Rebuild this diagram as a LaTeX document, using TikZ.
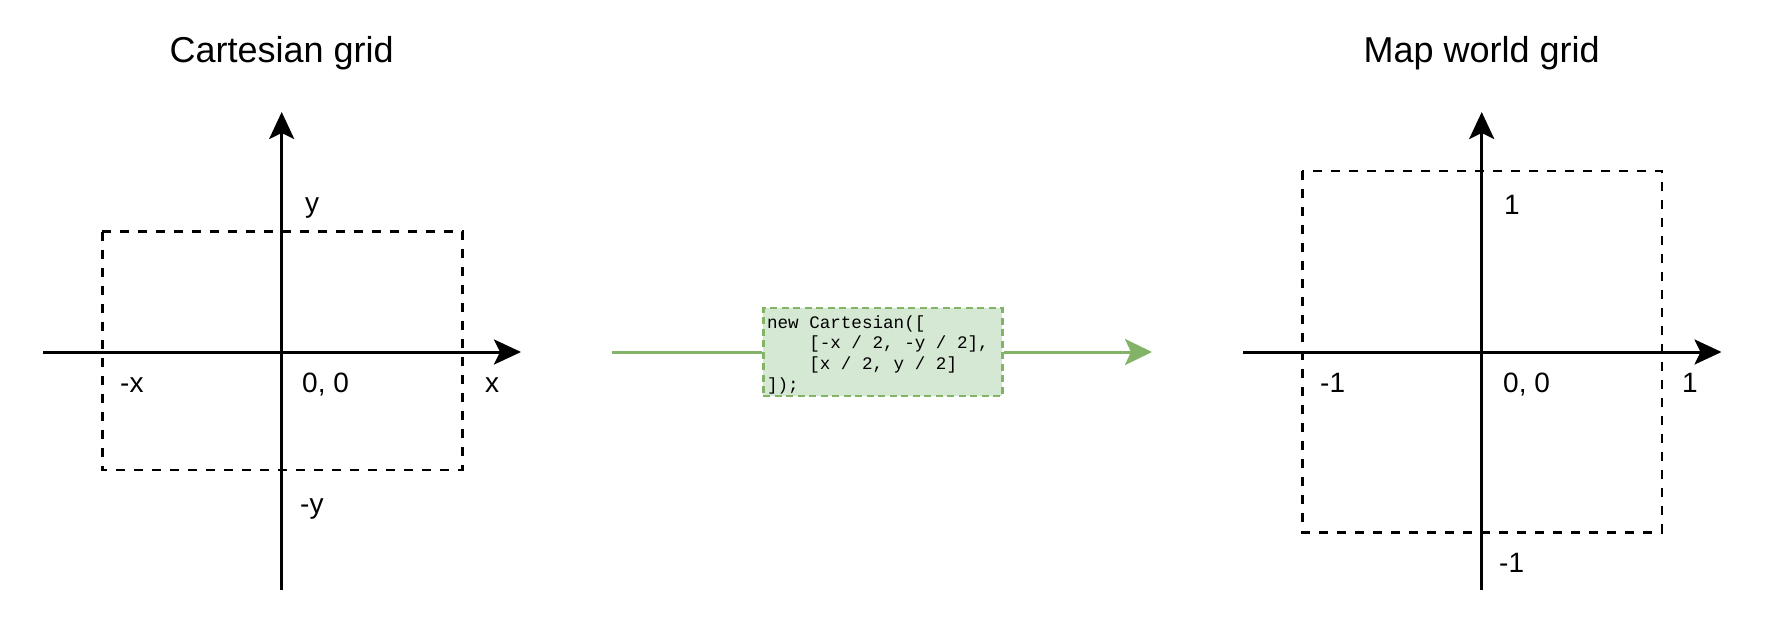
\documentclass[tikz,border=0pt]{standalone}
\usepackage{fontspec}
\setmainfont{Liberation Sans}
\newfontfamily\codefont{Liberation Mono}
\usetikzlibrary{arrows.meta}
\definecolor{gline}{HTML}{82B366}
\definecolor{gfill}{HTML}{D5E8D4}
\newcommand{\csp}{\hspace*{0.6em}}
\begin{document}
\begin{tikzpicture}[x=1pt,y=-1pt,
  axis/.style={line width=3pt,-{Stealth[length=27pt,width=25pt,inset=6pt]}},
  gridbox/.style={line width=2.6pt,dash pattern=on 9pt off 9pt},
  lbl/.style={anchor=base west,inner sep=0pt,font=\fontsize{28}{32}\selectfont},
  ttl/.style={anchor=base,inner sep=0pt,font=\fontsize{36}{42}\selectfont},
  codebox/.style={draw=gline,fill=gfill,line width=2.7pt,dash pattern=on 7pt off 4.5pt,
    text width=231.6pt,minimum height=88pt,align=left,inner xsep=3.7pt,inner ysep=0pt,
    font=\codefont\fontsize{17.6}{20.7}\selectfont},
  garrow/.style={draw=gline,line width=3pt}
]
\useasboundingbox (0,0) rectangle (1768,637);
% titles
\node[ttl] (t1) at (281.7,62) {Cartesian grid};
\node[ttl] (t2) at (1481.7,62) {Map world grid};
% left panel
\draw[gridbox] (102.3,231.7) rectangle (462.3,470);
\coordinate (lxs) at (42.8,352);
\coordinate (lxe) at (521,352);
\coordinate (lys) at (281.7,590);
\coordinate (lye) at (281.7,112);
\draw[axis] (lxs) -- (lxe);
\draw[axis] (lys) -- (lye);
\node[lbl] (ly) at (305,212) {y};
\node[lbl] (lmx) at (120,392) {-x};
\node[lbl] (lo) at (302,392) {0, 0};
\node[lbl] (lx) at (485,392) {x};
\node[lbl] (lmy) at (300,513) {-y};
% right panel
\draw[gridbox] (1302.3,171) rectangle (1662,532.3);
\coordinate (rxs) at (1242.8,352);
\coordinate (rxe) at (1721.5,352);
\coordinate (rys) at (1481.7,590);
\coordinate (rye) at (1481.7,112);
\draw[axis] (rxs) -- (rxe);
\draw[axis] (rys) -- (rye);
\node[lbl] (r1t) at (1504,214) {1};
\node[lbl] (rm1) at (1320,392) {-1};
\node[lbl] (ro) at (1503,392) {0, 0};
\node[lbl] (r1) at (1682,392) {1};
\node[lbl] (rm1b) at (1499,572) {-1};
% middle
\coordinate (gs) at (612,352);
\coordinate (ge) at (1152,352);
\node[codebox] (code) at (882.8,352) {\rule{0pt}{19.4pt}new\csp Cartesian([\\
\csp\csp\csp\csp[-x\csp/\csp2,\csp-y\csp/\csp2],\\
\csp\csp\csp\csp[x\csp/\csp2,\csp y\csp/\csp2]\\
]);\rule[-5pt]{0pt}{5pt}};
\draw[garrow] (gs) -- (code.west);
\draw[garrow,-{Stealth[length=27pt,width=26pt,inset=6pt]}] (code.east) -- (ge);
\end{tikzpicture}
\end{document}
